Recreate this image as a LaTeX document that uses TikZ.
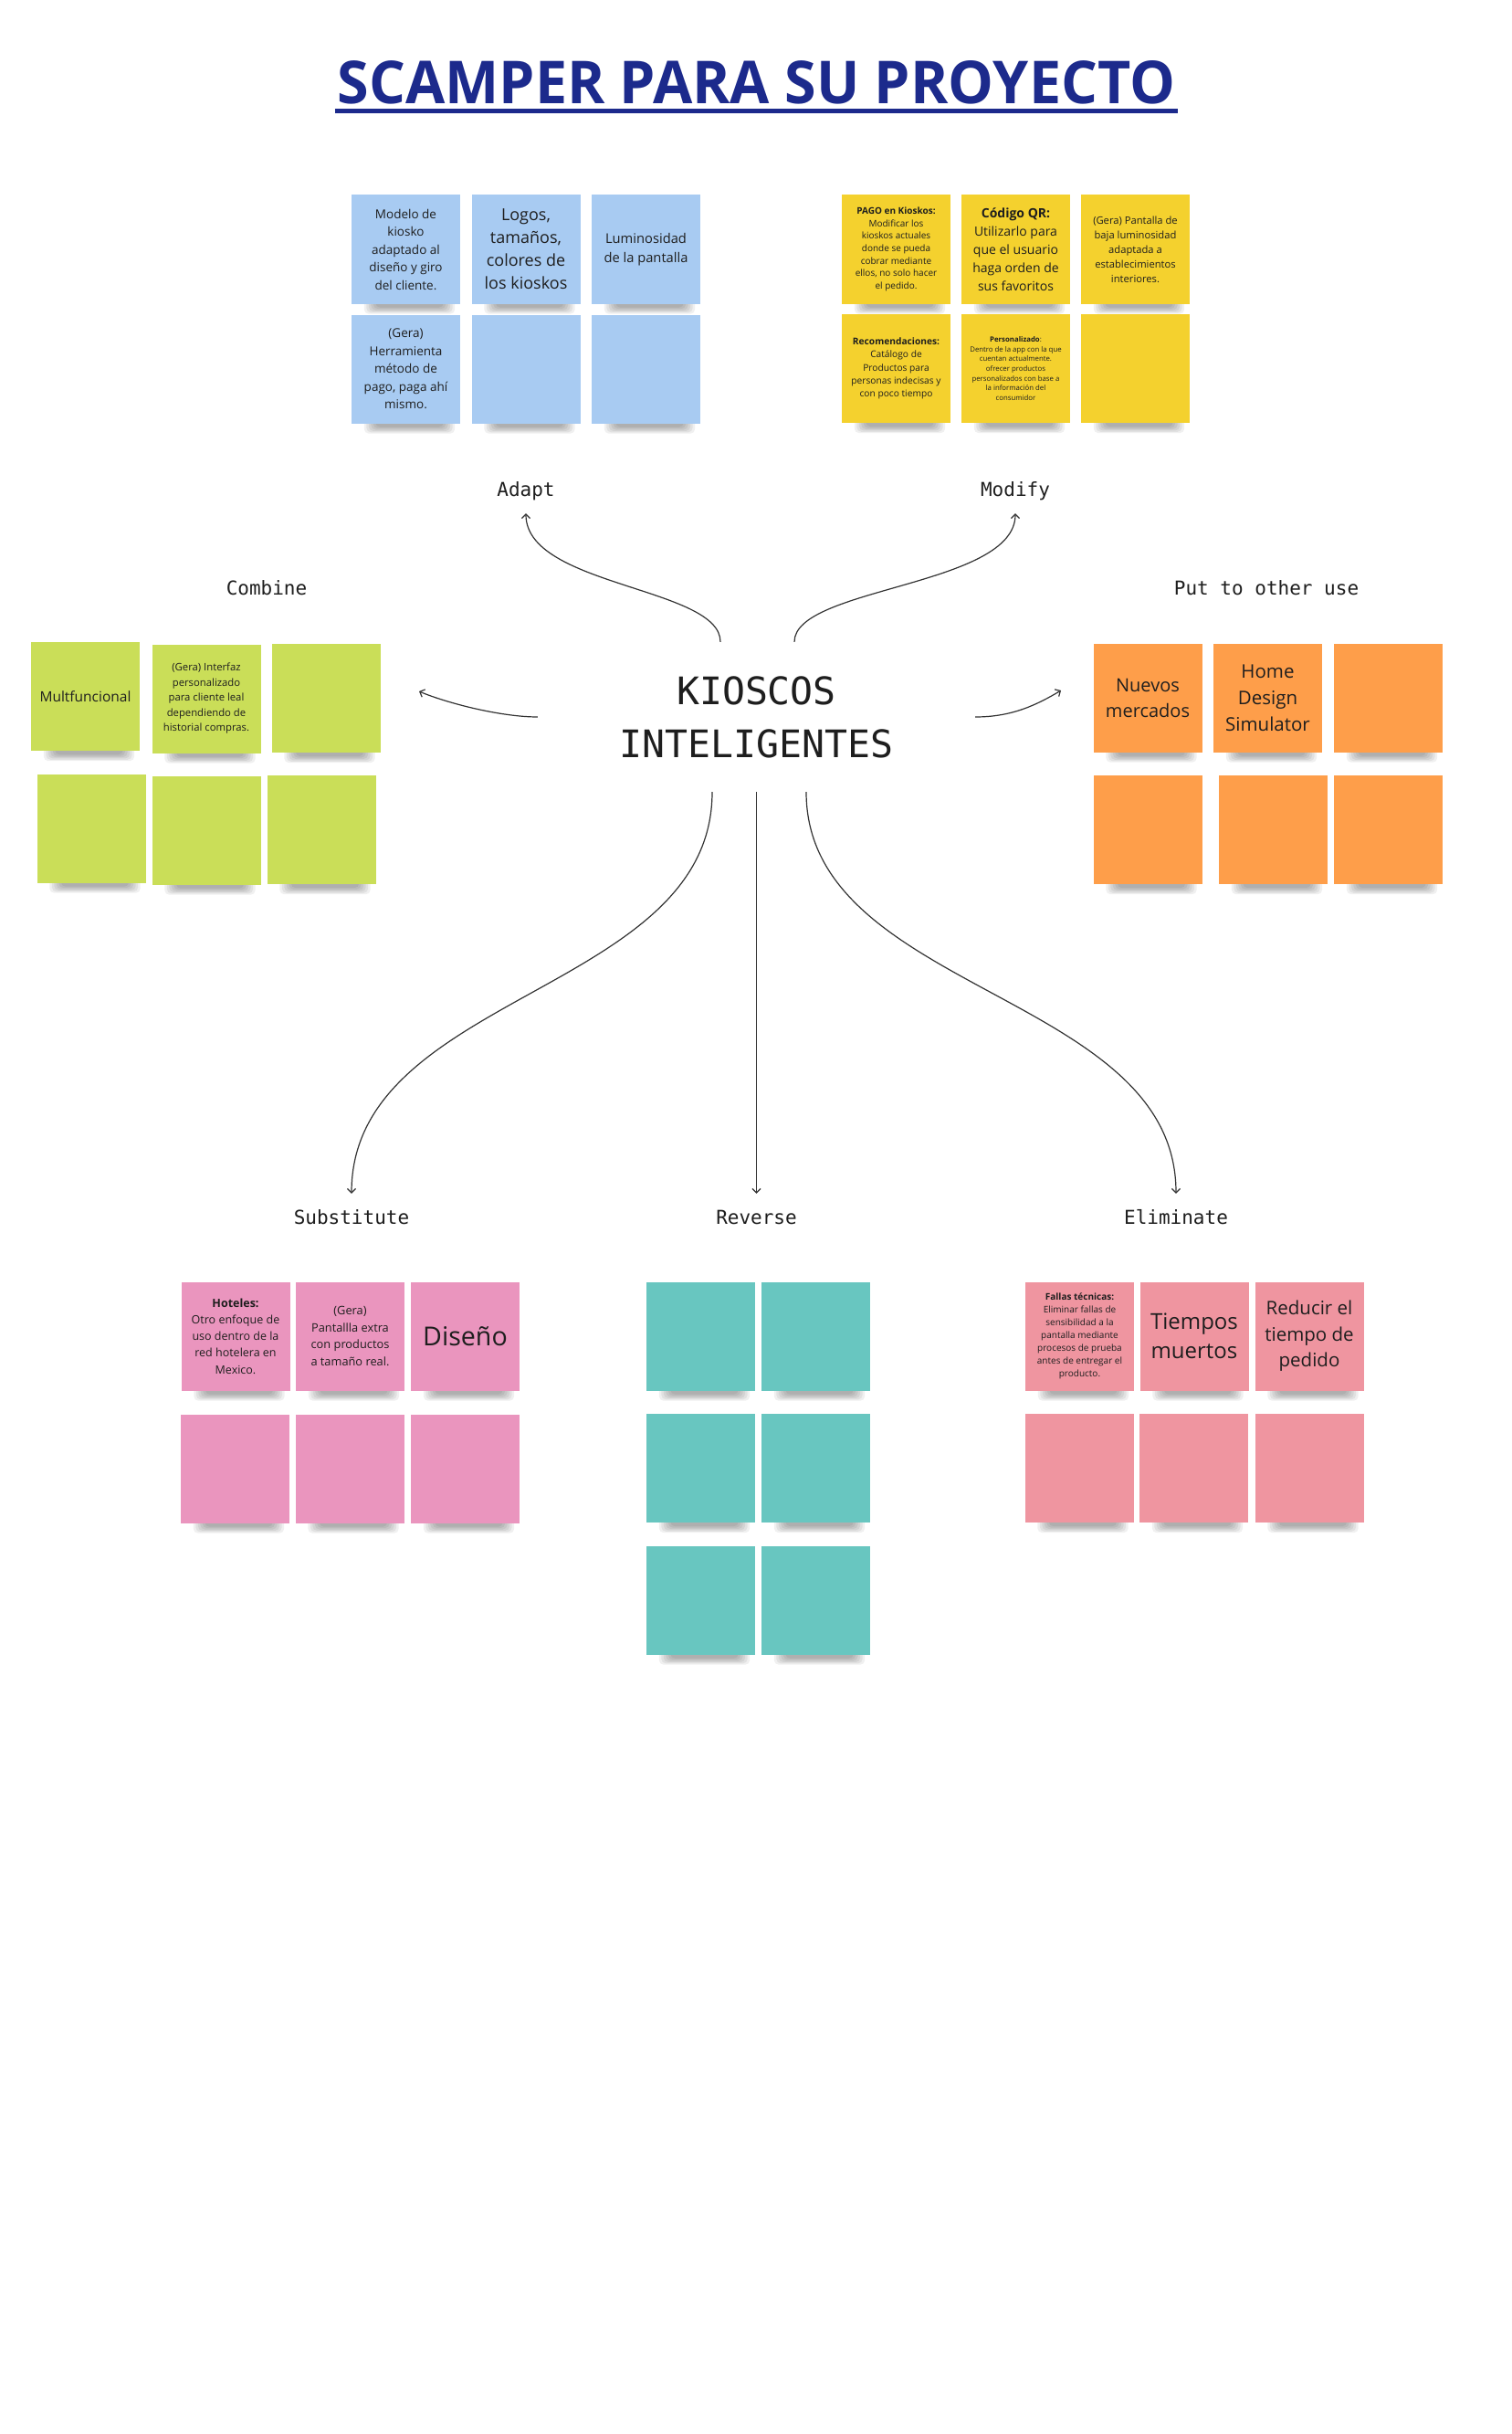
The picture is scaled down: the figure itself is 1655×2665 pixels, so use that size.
\documentclass[tikz,border=0pt]{standalone}
\usepackage{fontspec}
\usepackage{graphicx}
\setmainfont{Open Sans}
\newfontfamily\monofont{DejaVu Sans Mono}
\usetikzlibrary{arrows.meta}
\pgfdeclarelayer{bg}
\pgfsetlayers{bg,main}
\definecolor{ttl}{HTML}{1C2A8C}
\definecolor{nblue}{HTML}{A8CBF2}
\definecolor{nyellow}{HTML}{F4D12E}
\definecolor{ngreen}{HTML}{CADE58}
\definecolor{norange}{HTML}{FE9E4A}
\definecolor{npink}{HTML}{EA95BE}
\definecolor{nteal}{HTML}{68C6C0}
\definecolor{nsalmon}{HTML}{EF95A0}
\definecolor{ink}{HTML}{1E1E1E}
\definecolor{wire}{HTML}{333333}
\newcommand\fz[2]{\fontsize{#1pt}{#2pt}\selectfont}
\begin{document}
\begin{tikzpicture}[x=1pt,y=-1pt,
  note/.style={minimum width=119pt, minimum height=119pt, inner sep=3pt, align=center, text=ink},
  lbl/.style={font=\monofont\fz{21}{25}, text=ink, inner sep=0pt, text height=15pt, text depth=5pt},
  conn/.style={draw=wire, line width=1.2pt, -{Straight Barb[length=4.5pt,width=9pt]}},
  shadowpiece/.style={fill=black, opacity=0.06, rounded corners=5pt}
]
\useasboundingbox (0,0) rectangle (1655,2665);

% title
\node[inner sep=0pt, text=ttl] (title) at (828.5,90.5) {\resizebox{917pt}{47pt}{\bfseries SCAMPER PARA SU PROYECTO}};
\draw[ttl, line width=5pt] ([xshift=-3pt,yshift=-7pt]title.south west) -- ([xshift=3pt,yshift=-7pt]title.south east);

% center
\node[minimum width=479pt, minimum height=164pt, inner sep=0pt, align=center, text=ink,
  font=\monofont\fz{41.5}{58}] (center) at (828.5,785) {KIOSCOS\\INTELIGENTES};

% labels
\node[lbl, anchor=base] (adapt) at (576,543) {Adapt};
\node[lbl, anchor=base] (modify) at (1112,543) {Modify};
\node[lbl, anchor=base] (combine) at (292,651) {Combine};
\node[lbl, anchor=base] (putuse) at (1387,651) {Put to other use};
\node[lbl, anchor=base] (subst) at (385,1340) {Substitute};
\node[lbl, anchor=base] (reverse) at (828.5,1340) {Reverse};
\node[lbl, anchor=base] (elim) at (1288,1340) {Eliminate};

% Adapt notes
\node[note, fill=nblue, font=\fz{13.5}{19.5}] (a1) at (444.5,273) {Modelo de\\kiosko\\adaptado al\\diseño y giro\\del cliente.};
\node[note, fill=nblue, font=\fz{18}{25}] (a2) at (576,273) {Logos,\\tamaños,\\colores de\\los kioskos};
\node[note, fill=nblue, font=\fz{14.7}{21}] (a3) at (707.5,273) {Luminosidad\\de la pantalla};
\node[note, fill=nblue, font=\fz{13.5}{19.5}] (a4) at (444.5,404) {(Gera)\\Herramienta\\método de\\pago, paga ahí\\mismo.};
\node[note, fill=nblue] (a5) at (576,404) {};
\node[note, fill=nblue] (a6) at (707.5,404) {};

% Modify notes
\node[note, fill=nyellow, font=\fz{10}{13.7}] (m1) at (981.5,273) {{\bfseries PAGO en Kioskos:}\\Modificar los\\kioskos actuales\\donde se pueda\\cobrar mediante\\ellos, no solo hacer\\el pedido.};
\node[note, fill=nyellow, font=\fz{14}{20}] (m2) at (1112.5,273) {{\bfseries Código QR:}\\Utilizarlo para\\que el usuario\\haga orden de\\sus favoritos};
\node[note, fill=nyellow, font=\fz{11.2}{16}] (m3) at (1243.5,273) {(Gera) Pantalla de\\baja luminosidad\\adaptada a\\establecimientos\\interiores.};
\node[note, fill=nyellow, font=\fz{10.2}{14.2}] (m4) at (981.5,403.5) {{\bfseries Recomendaciones:}\\Catálogo de\\Productos para\\personas indecisas y\\con poco tiempo};
\node[note, fill=nyellow, font=\fz{7.8}{10.7}] (m5) at (1112.5,403.5) {{\bfseries Personalizado}:\\Dentro de la app con la que\\cuentan actualmente.\\ofrecer productos\\personalizados con base a\\la información del\\consumidor};
\node[note, fill=nyellow] (m6) at (1243.5,403.5) {};

% Combine notes
\node[note, fill=ngreen, font=\fz{15.5}{20}] (c1) at (93.5,762.5) {Multfuncional};
\node[note, fill=ngreen, font=\fz{11.3}{16.5}] (c2) at (226,765) {(Gera) Interfaz\\personalizado\\para cliente leal\\dependiendo de\\historial compras.};
\node[note, fill=ngreen] (c3) at (357,764.5) {};
\node[note, fill=ngreen] (c4) at (100,907) {};
\node[note, fill=ngreen] (c5) at (226,909) {};
\node[note, fill=ngreen] (c6) at (352,908.5) {};

% Put to other use notes
\node[note, fill=norange, font=\fz{20}{28}] (p1) at (1257,764) {Nuevos\\mercados};
\node[note, fill=norange, font=\fz{20.5}{29}] (p2) at (1388.5,764) {Home\\Design\\Simulator};
\node[note, fill=norange] (p3) at (1520.5,764) {};
\node[note, fill=norange] (p4) at (1257,908.5) {};
\node[note, fill=norange] (p5) at (1394.5,908.5) {};
\node[note, fill=norange] (p6) at (1520.5,908.5) {};

% Substitute notes
\node[note, fill=npink, font=\fz{12.5}{18.3}] (s1) at (258,1463) {{\bfseries Hoteles:}\\Otro enfoque de\\uso dentro de la\\red hotelera en\\Mexico.};
\node[note, fill=npink, font=\fz{12.8}{18.5}] (s2) at (383.5,1463) {(Gera)\\Pantallla extra\\con productos\\a tamaño real.};
\node[note, fill=npink, font=\fz{28.6}{34}] (s3) at (509.5,1463) {Diseño};
\node[note, fill=npink] (s4) at (257.5,1608) {};
\node[note, fill=npink] (s5) at (383,1608) {};
\node[note, fill=npink] (s6) at (509.5,1608) {};

% Reverse notes
\node[note, fill=nteal] (r1) at (767.5,1463) {};
\node[note, fill=nteal] (r2) at (893.5,1463) {};
\node[note, fill=nteal] (r3) at (767.5,1607.5) {};
\node[note, fill=nteal] (r4) at (893.5,1607.5) {};
\node[note, fill=nteal] (r5) at (767.5,1752) {};
\node[note, fill=nteal] (r6) at (893.5,1752) {};

% Eliminate notes
\node[note, fill=nsalmon, font=\fz{10}{13.9}] (e1) at (1182.5,1463) {{\bfseries Fallas técnicas:}\\Eliminar fallas de\\sensibilidad a la\\pantalla mediante\\procesos de prueba\\antes de entregar el\\producto.};
\node[note, fill=nsalmon, font=\fz{24}{32}] (e2) at (1308,1463) {Tiempos\\muertos};
\node[note, fill=nsalmon, font=\fz{20.5}{28.5}] (e3) at (1434,1463) {Reducir el\\tiempo de\\pedido};
\node[note, fill=nsalmon] (e4) at (1182,1607.5) {};
\node[note, fill=nsalmon] (e5) at (1307.5,1607.5) {};
\node[note, fill=nsalmon] (e6) at (1434,1607.5) {};

% shadows behind notes
\begin{pgfonlayer}{bg}
\fill[white] (0,0) rectangle (1655,2665);
\foreach \n in {a1,a2,a3,a4,a5,a6,m1,m2,m3,m4,m5,m6,c1,c2,c3,c4,c5,c6,p1,p2,p3,p4,p5,p6,s1,s2,s3,s4,s5,s6,r1,r2,r3,r4,r5,r6,e1,e2,e3,e4,e5,e6}{
  \foreach \k in {0,...,5}{
    \fill[shadowpiece] ([xshift={(14+2.5*\k)*1pt}, yshift=10pt]\n.south west) rectangle ([xshift={(-6-2.5*\k)*1pt}, yshift={(-11+1.4*\k)*1pt}]\n.south east);
  }
}
\end{pgfonlayer}

% free ends
\coordinate (ctip) at (459,757);
\coordinate (ptip) at (1162,756);

% connectors
\draw[conn] ([xshift=-39.5pt]center.north) .. controls +(0,-60) and +(0,80) .. ([yshift=-14pt]adapt.south);
\draw[conn] ([xshift=41.5pt]center.north) .. controls +(0,-60) and +(0,80) .. ([yshift=-14pt]modify.south);
\draw[conn] (center.west) .. controls +(-40,0) and +(31,13) .. (ctip);
\draw[conn] (center.east) .. controls +(40,0) and +(-27,16) .. (ptip);
\draw[conn] ([xshift=-48.5pt]center.south) .. controls +(0,220) and +(0,-220) .. ([yshift=18pt]subst.north);
\draw[conn] (center.south) -- ([yshift=18pt]reverse.north);
\draw[conn] ([xshift=54.5pt]center.south) .. controls +(0,220) and +(0,-220) .. ([yshift=18pt]elim.north);
\end{tikzpicture}
\end{document}
